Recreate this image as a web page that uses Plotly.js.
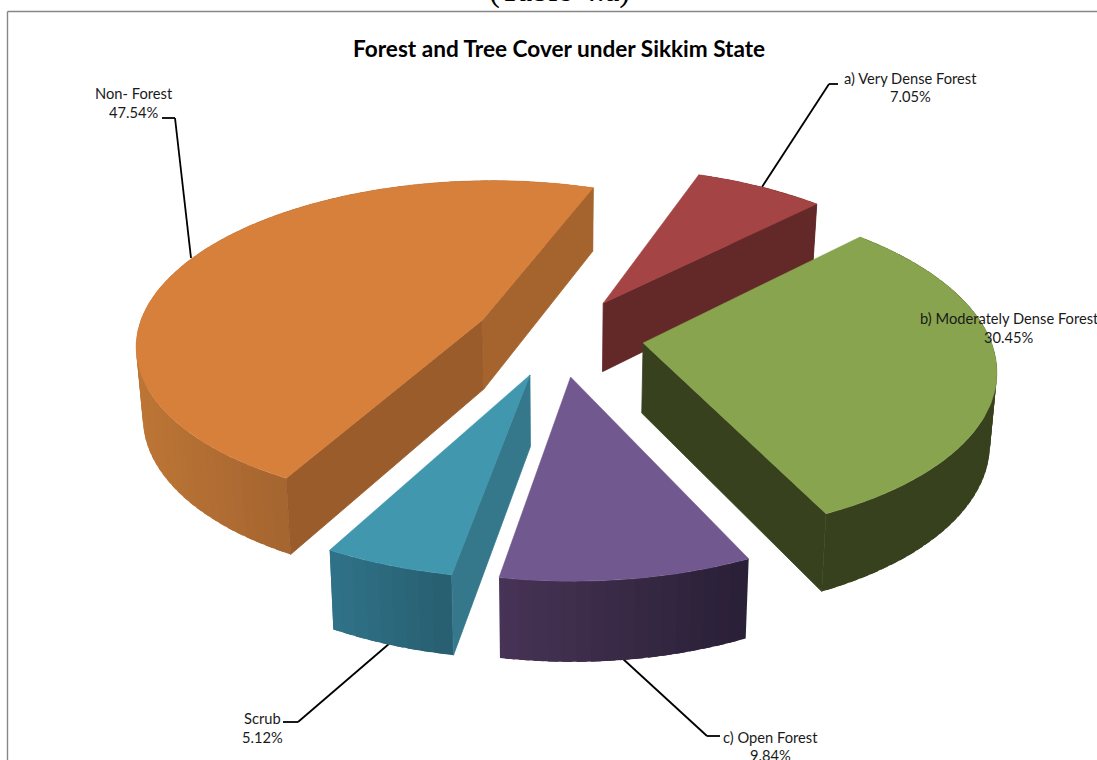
<!DOCTYPE html>
<html>
<head>
<meta charset="utf-8">
<script src="https://cdn.plot.ly/plotly-3.0.1.min.js"></script>
<style>html,body{margin:0;padding:0;background:#fff;overflow:hidden}#chart{width:1097px;height:760px}</style>
</head>
<body>
<div id="chart"></div>
<script>
// ---- data ----
const categories = ["a) Very Dense Forest", "b) Moderately Dense Forest", "c) Open Forest", "Scrub", "Non- Forest"];
const shares = [7.05, 30.45, 9.84, 5.12, 47.54];
const chartTitle = "Forest and Tree Cover under Sikkim State";
const captionAbove = "(Table 4.a)";

// ---- styles ----
const topColors = ["#A54444", "#89A44E", "#71588F", "#4097AE", "#D6803C"];
const sideColors = [["#632828", "#632828"], ["#38411D", "#38411D"], ["#483456", "#2A2037"], ["#30748A", "#285E70"], ["#BC7535", "#A56530"]];
const sideRanges = [[700, 820], [650, 1000], [497, 745], [330, 450], [140, 290]];
const radialColors = { 0: "#632828", 1: "#38411D", 2: "#3A2C48", 3: "#35788C", 4: ["#9A5C2B", "#A5642E"] };
const drawOrder = [4, 0, 1, 3, 2];
const labelCentres = [[910, 78, 96], [1009, 318, 337], [770, 737, 755], [262, 718, 737], [134, 93, 112]];
const leaders = [
  [[762, 187], [829, 84], [838, 84]],
  [[622, 658], [707, 736], [720, 736]],
  [[390, 643], [298, 722], [283, 722]],
  [[191, 258], [175, 118], [162, 118]]
];

// ---- projection of the tilted, exploded pie ----
const view = { cx: 559, cy: 336, a: 346.4, b: 163, k: 0.14, depth: 71, shrink: 0.984, explode: 0.245, firstAngle: 19.7 };
function project(X, Y, low) {
  let s = 1 / (1 + view.k * Y);
  if (low) s *= view.shrink;
  return [view.cx + view.a * X * s, view.cy - view.b * Y * s + (low ? view.depth * s : 0)];
}
function dir(deg) { const r = deg * Math.PI / 180; return [Math.sin(r), Math.cos(r)]; }
function hex(c) { return [1, 3, 5].map(i => parseInt(c.substr(i, 2), 16)); }
function mix(c1, c2, t) {
  t = Math.max(0, Math.min(1, t));
  const a = hex(c1), b = hex(c2);
  return "rgb(" + a.map((v, i) => Math.round(v + (b[i] - v) * t)).join(",") + ")";
}
function poly(pts, color, edge) {
  const xs = pts.map(p => p[0]), ys = pts.map(p => p[1]);
  xs.push(xs[0]); ys.push(ys[0]);
  return { type: "scatter", mode: "lines", x: xs, y: ys, fill: "toself", fillcolor: color,
           line: { color: color, width: edge || 0 }, hoverinfo: "skip", showlegend: false };
}

// slice angles come from the shares
const total = shares.reduce((a, b) => a + b, 0);
const spans = [];
let running = view.firstAngle;
shares.forEach(v => { const d = v / total * 360; spans.push([running, running + d]); running += d; });

const traces = [];
drawOrder.forEach(i => {
  const [t0, t1] = spans[i];
  const md = dir((t0 + t1) / 2);
  const ox = md[0] * view.explode, oy = md[1] * view.explode;
  const at = (t, low) => { const d = dir(t); return project(ox + d[0], oy + d[1], low); };
  const tipTop = project(ox, oy, false), tipLow = project(ox, oy, true);

  // rim: strips overlap the next one so that no seams show
  const step = 2;
  const starts = [];
  for (let t = t0; t < t1; t += step) starts.push(t);
  const rng = sideRanges[i];
  const midU = t => at(t + step / 2, false)[0];
  starts.sort((a, b) => midU(a) - midU(b));
  starts.forEach(t => {
    const e = Math.min(t + step, t1);
    const ss = Math.max(t - 0.7, t0), ee = Math.min(e + 0.7, t1);
    const p = at(ss, false), q = at(ee, false), r = at(ee, true), w = at(ss, true);
    const u = (at(t, false)[0] + at(e, false)[0]) / 2;
    traces.push(poly([p, q, r, w], mix(sideColors[i][0], sideColors[i][1], (u - rng[0]) / (rng[1] - rng[0]))));
  });
  // cut faces that look towards the viewer
  const rc = radialColors[i];
  const startN = dir(t0 - 90), endN = dir(t1 + 90);
  if (startN[1] < 0) traces.push(poly([tipTop, at(t0, false), at(t0, true), tipLow], Array.isArray(rc) ? rc[0] : rc, 0.8));
  if (endN[1] < 0) traces.push(poly([tipTop, at(t1, false), at(t1, true), tipLow], Array.isArray(rc) ? rc[1] : rc, 0.8));
  // top face
  const topPts = [tipTop];
  for (let t = t0; t < t1; t += 1) topPts.push(at(t, false));
  topPts.push(at(t1, false));
  traces.push(poly(topPts, topColors[i], 0.5));
});

const font = "Lato, 'Open Sans', sans-serif";
const labelFont = { family: font, size: 14.7, color: "#1a1a1a" };
const annotations = [];
categories.forEach((c, i) => {
  const [x, y1, y2] = labelCentres[i];
  annotations.push({ x: x, y: y1, xref: "x", yref: "y", text: c, showarrow: false, xanchor: "center", yanchor: "middle", font: labelFont });
  annotations.push({ x: x, y: y2, xref: "x", yref: "y", text: shares[i].toFixed(2) + "%", showarrow: false, xanchor: "center", yanchor: "middle", font: labelFont });
});
annotations.push({ x: 558.5, y: 48, xref: "x", yref: "y", text: "<b>" + chartTitle + "</b>", showarrow: false, xanchor: "center", yanchor: "middle", font: { family: font, size: 22.6, color: "#000" } });
annotations.push({ x: 559, y: 0, yshift: 10, xref: "x", yref: "y", text: captionAbove, showarrow: false, xanchor: "center", yanchor: "middle", font: { family: "'Liberation Serif', serif", size: 32.7, color: "#000" } });

const shapes = [];
leaders.forEach(l => {
  for (let j = 0; j < l.length - 1; j++) {
    shapes.push({ type: "line", layer: "below", xref: "x", yref: "y", x0: l[j][0], y0: l[j][1], x1: l[j + 1][0], y1: l[j + 1][1], line: { color: "#000", width: 1.8 } });
  }
});
// chart frame
shapes.push({ type: "line", layer: "below", xref: "x", yref: "y", x0: 7.5, y0: 11.5, x1: 1097, y1: 11.5, line: { color: "#868686", width: 1.4 } });
shapes.push({ type: "line", layer: "below", xref: "x", yref: "y", x0: 7.5, y0: 11.5, x1: 7.5, y1: 760, line: { color: "#868686", width: 1.4 } });

Plotly.newPlot("chart", traces, {
  width: 1097, height: 760,
  margin: { l: 0, r: 0, t: 0, b: 0, pad: 0 },
  paper_bgcolor: "#fff", plot_bgcolor: "#fff",
  xaxis: { range: [0, 1097], visible: false, fixedrange: true },
  yaxis: { range: [760, 0], visible: false, fixedrange: true },
  showlegend: false, shapes: shapes, annotations: annotations
}, { displayModeBar: false, staticPlot: true });
</script>
</body>
</html>
